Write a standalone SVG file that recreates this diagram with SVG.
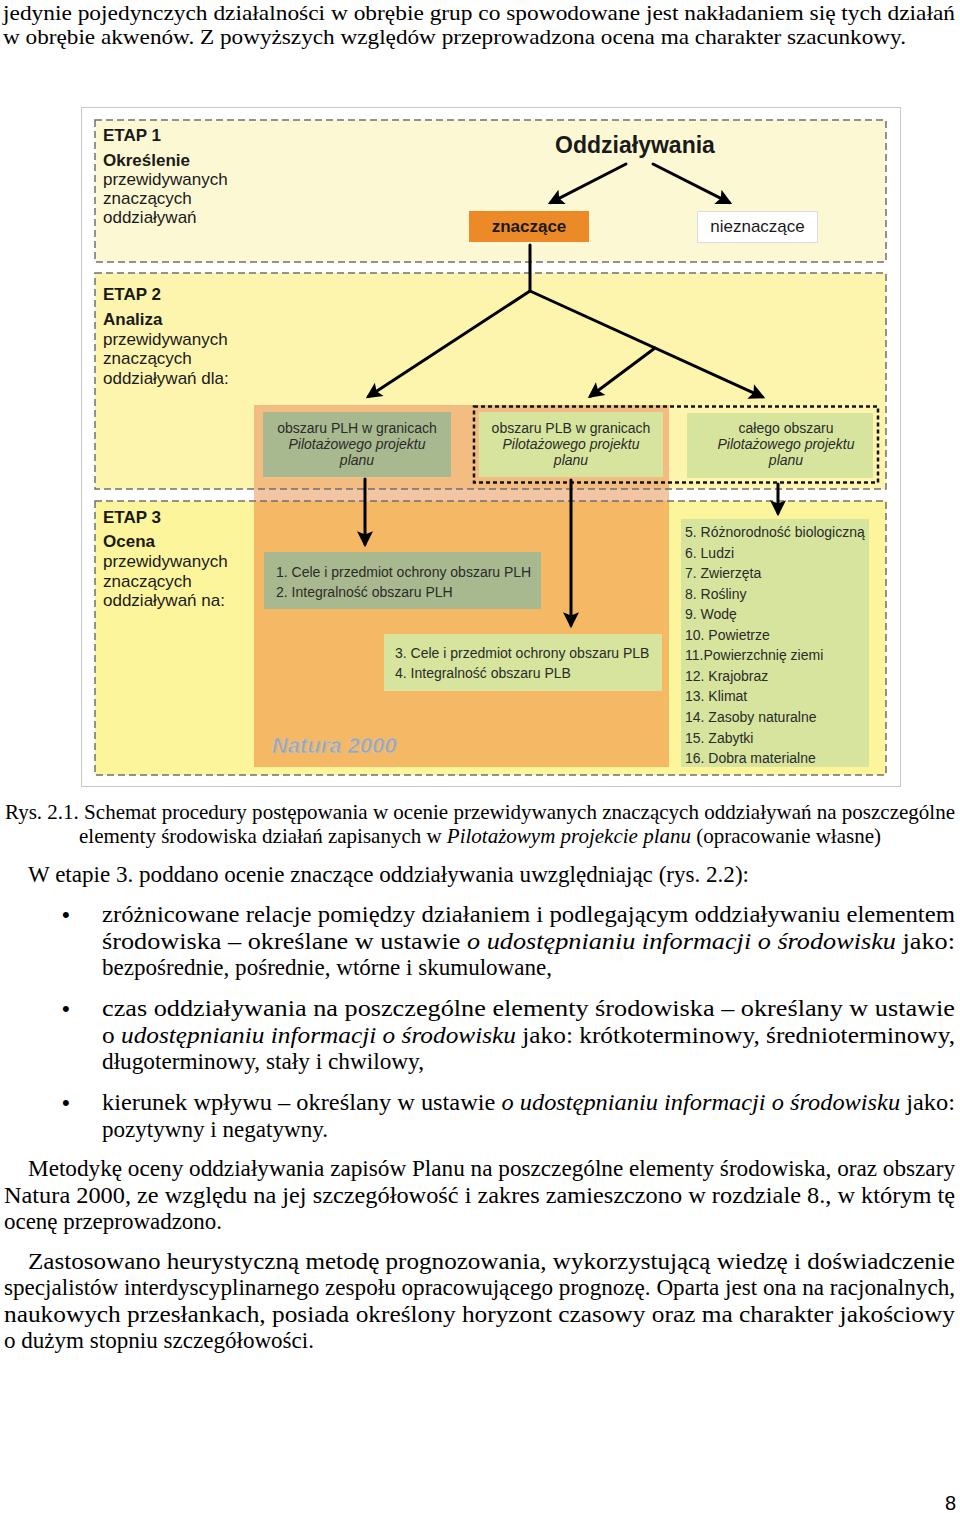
<svg xmlns="http://www.w3.org/2000/svg" width="960" height="1513" viewBox="0 0 960 1513">
<defs>
<marker id="ah" viewBox="0 0 10 10" refX="8" refY="5" markerWidth="18" markerHeight="16" markerUnits="userSpaceOnUse" orient="auto">
<path d="M0,0 L10,5 L0,10 L2,5 z" fill="#000"/>
</marker>
<style>
.body{font-family:"Liberation Serif","Times New Roman",serif;font-size:23px;fill:#000}
.top{font-size:22px}
.cap{font-size:21px}
.it{font-style:italic}
.bul{font-family:"Liberation Sans",Arial,sans-serif;font-size:22px;fill:#000}
.lbl{font-family:"Liberation Sans",Arial,sans-serif;font-size:17px;fill:#1a1a1a}
.b{font-weight:bold}
.title{font-size:23px}
.gt{font-family:"Liberation Sans",Arial,sans-serif;font-size:14px;fill:#2b2b2b}
.dash{fill:none;stroke:#707070;stroke-width:1.5;stroke-dasharray:7 4}
.conn{stroke:#000;stroke-width:3;fill:none;stroke-linecap:round}
.arr{marker-end:url(#ah)}
.gg{fill:#a9b98f}
.lg{fill:#d6e49d}
</style>
</defs>
<rect width="960" height="1513" fill="#fff"/>

<g id="text-top">
<text class="body top" x="3" y="19.6" textLength="952" lengthAdjust="spacingAndGlyphs">jedynie pojedynczych działalności w obrębie grup co spowodowane jest nakładaniem się tych działań</text>
<text class="body top" x="3" y="44" textLength="903" lengthAdjust="spacingAndGlyphs">w obrębie akwenów. Z powyższych względów przeprowadzona ocena ma charakter szacunkowy.</text>
</g>

<g id="frame">
<rect x="81.5" y="107.5" width="819" height="679" fill="#fff" stroke="#c8c8c8" stroke-width="1"/>
</g>

<g id="etap1">
<rect x="95" y="120" width="791" height="142" fill="#fdf8d4"/>
</g>
<g id="etap2">
<rect x="95" y="273" width="791" height="216" fill="#fdf5ad"/>
</g>
<g id="etap3">
<rect x="95" y="501" width="791" height="274" fill="#fdf59b"/>
</g>

<g id="natura2000">
<rect x="254" y="405" width="415" height="84" fill="#f3bd82"/>
<rect x="254" y="489" width="415" height="12" fill="#f2c6a4"/>
<rect x="254" y="501" width="415" height="266" fill="#f5b865"/>
<text x="272" y="753" font-family="Liberation Sans, Arial, sans-serif" font-size="22" font-weight="bold" font-style="italic" fill="#a3a3a3" stroke="#c9c9c9" stroke-width="0.6">Natura 2000</text>
</g>

<g id="etap-borders">
<rect class="dash" x="95" y="120" width="791" height="142"/>
<rect class="dash" x="95" y="273" width="791" height="216"/>
<rect class="dash" x="95" y="501" width="791" height="274"/>
</g>

<g id="etap1-label">
<text class="lbl b" x="103" y="141">ETAP 1</text>
<text class="lbl b" x="103" y="166">Określenie</text>
<text class="lbl" x="103" y="185">przewidywanych</text>
<text class="lbl" x="103" y="204">znaczących</text>
<text class="lbl" x="103" y="223">oddziaływań</text>
</g>
<g id="etap2-label">
<text class="lbl b" x="103" y="300">ETAP 2</text>
<text class="lbl b" x="103" y="325">Analiza</text>
<text class="lbl" x="103" y="345">przewidywanych</text>
<text class="lbl" x="103" y="364">znaczących</text>
<text class="lbl" x="103" y="384">oddziaływań dla:</text>
</g>
<g id="etap3-label">
<text class="lbl b" x="103" y="523">ETAP 3</text>
<text class="lbl b" x="103" y="547">Ocena</text>
<text class="lbl" x="103" y="567">przewidywanych</text>
<text class="lbl" x="103" y="587">znaczących</text>
<text class="lbl" x="103" y="606">oddziaływań na:</text>
</g>

<g id="oddzialywania">
<text class="lbl b title" x="635" y="153" text-anchor="middle">Oddziaływania</text>
</g>
<g id="znaczace">
<rect x="469" y="211" width="120" height="31" fill="#ec8a27"/>
<text class="lbl b" x="529" y="232" text-anchor="middle" fill="#3a2a12">znaczące</text>
</g>
<g id="nieznaczace">
<rect x="697.5" y="211.5" width="120" height="31" fill="#fff" stroke="#dcdcdc"/>
<text class="lbl" x="757.5" y="232" text-anchor="middle">nieznaczące</text>
</g>

<g id="obszar-plh">
<rect class="gg" x="263" y="412" width="188" height="65"/>
<text class="gt" text-anchor="middle"><tspan x="357" y="433">obszaru PLH w granicach</tspan><tspan class="it" x="357" y="449">Pilotażowego projektu</tspan><tspan class="it" x="357" y="465">planu</tspan></text>
</g>
<g id="obszar-plb">
<rect class="lg" x="479" y="412" width="184" height="65"/>
<text class="gt" text-anchor="middle"><tspan x="571" y="433">obszaru PLB w granicach</tspan><tspan class="it" x="571" y="449">Pilotażowego projektu</tspan><tspan class="it" x="571" y="465">planu</tspan></text>
</g>
<g id="caly-obszar">
<rect class="lg" x="687" y="413" width="186" height="65"/>
<text class="gt" text-anchor="middle"><tspan x="786" y="433">całego obszaru</tspan><tspan class="it" x="786" y="449">Pilotażowego projektu</tspan><tspan class="it" x="786" y="465">planu</tspan></text>
</g>
<g id="obszar-group">
<rect x="474" y="406.5" width="404" height="76" fill="none" stroke="#111" stroke-width="2.5" stroke-dasharray="4 3"/>
</g>

<g id="plh-items">
<rect class="gg" x="264" y="552" width="277" height="57"/>
<text class="gt"><tspan x="276" y="577">1. Cele i przedmiot ochrony obszaru PLH</tspan><tspan x="276" y="597">2. Integralność obszaru PLH</tspan></text>
</g>
<g id="plb-items">
<rect class="lg" x="384" y="634" width="278" height="57"/>
<text class="gt"><tspan x="395" y="658">3. Cele i przedmiot ochrony obszaru PLB</tspan><tspan x="395" y="678">4. Integralność obszaru PLB</tspan></text>
</g>
<g id="elementy">
<rect class="lg" x="681" y="519" width="188" height="248"/>
<text class="gt">
<tspan x="685" y="537">5. Różnorodność biologiczną</tspan>
<tspan x="685" y="557.5">6. Ludzi</tspan>
<tspan x="685" y="578">7. Zwierzęta</tspan>
<tspan x="685" y="598.6">8. Rośliny</tspan>
<tspan x="685" y="619.2">9. Wodę</tspan>
<tspan x="685" y="639.7">10. Powietrze</tspan>
<tspan x="685" y="660.3">11.Powierzchnię ziemi</tspan>
<tspan x="685" y="680.8">12. Krajobraz</tspan>
<tspan x="685" y="701.4">13. Klimat</tspan>
<tspan x="685" y="722">14. Zasoby naturalne</tspan>
<tspan x="685" y="742.5">15. Zabytki</tspan>
<tspan x="685" y="763">16. Dobra materialne</tspan>
</text>
</g>

<g id="connectors">
<line class="conn arr" x1="626" y1="164" x2="550.7" y2="202.6"/>
<line class="conn arr" x1="653" y1="164" x2="729.3" y2="202.6"/>
<polyline class="conn" points="530,245 530,291"/>
<line class="conn arr" x1="530" y1="291" x2="368.5" y2="396.4"/>
<line class="conn arr" x1="530" y1="291" x2="762.3" y2="396.8"/>
<line class="conn arr" x1="655" y1="348" x2="590.4" y2="396.2"/>
<line class="conn arr" x1="365" y1="479" x2="365" y2="544"/>
<line class="conn arr" x1="571" y1="480" x2="571" y2="625"/>
<line class="conn arr" x1="778" y1="484" x2="778" y2="513"/>
</g>

<g id="caption">
<text class="body cap" x="5" y="819" textLength="950" lengthAdjust="spacingAndGlyphs">Rys. 2.1. Schemat procedury postępowania w ocenie przewidywanych znaczących oddziaływań na poszczególne</text>
<text class="body cap" x="79" y="843" textLength="802" lengthAdjust="spacingAndGlyphs">elementy środowiska działań zapisanych w <tspan class="it">Pilotażowym projekcie planu</tspan> (opracowanie własne)</text>
</g>

<g id="text-body">
<text class="body" x="28" y="882" textLength="721" lengthAdjust="spacingAndGlyphs">W etapie 3. poddano ocenie znaczące oddziaływania uwzględniając (rys. 2.2):</text>
<text class="bul" x="62" y="922">•</text>
<text class="body" x="102" y="922" textLength="853" lengthAdjust="spacingAndGlyphs">zróżnicowane relacje pomiędzy działaniem i podlegającym oddziaływaniu elementem</text>
<text class="body" x="102" y="949" textLength="853" lengthAdjust="spacingAndGlyphs">środowiska – określane w ustawie <tspan class="it">o udostępnianiu informacji o środowisku</tspan> jako:</text>
<text class="body" x="102" y="975" textLength="450" lengthAdjust="spacingAndGlyphs">bezpośrednie, pośrednie, wtórne i skumulowane,</text>
<text class="bul" x="62" y="1016">•</text>
<text class="body" x="102" y="1016" textLength="853" lengthAdjust="spacingAndGlyphs">czas oddziaływania na poszczególne elementy środowiska – określany w ustawie</text>
<text class="body" x="102" y="1043" textLength="853" lengthAdjust="spacingAndGlyphs">o <tspan class="it">udostępnianiu informacji o środowisku</tspan> jako: krótkoterminowy, średnioterminowy,</text>
<text class="body" x="102" y="1069" textLength="322" lengthAdjust="spacingAndGlyphs">długoterminowy, stały i chwilowy,</text>
<text class="bul" x="62" y="1110">•</text>
<text class="body" x="102" y="1110" textLength="853" lengthAdjust="spacingAndGlyphs">kierunek wpływu – określany w ustawie <tspan class="it">o udostępnianiu informacji o środowisku</tspan> jako:</text>
<text class="body" x="102" y="1137" textLength="226" lengthAdjust="spacingAndGlyphs">pozytywny i negatywny.</text>
<text class="body" x="28" y="1176" textLength="927" lengthAdjust="spacingAndGlyphs">Metodykę oceny oddziaływania zapisów Planu na poszczególne elementy środowiska, oraz obszary</text>
<text class="body" x="4" y="1203" textLength="951" lengthAdjust="spacingAndGlyphs">Natura 2000, ze względu na jej szczegółowość i zakres zamieszczono w rozdziale 8., w którym tę</text>
<text class="body" x="4" y="1229" textLength="218" lengthAdjust="spacingAndGlyphs">ocenę przeprowadzono.</text>
<text class="body" x="28" y="1269" textLength="927" lengthAdjust="spacingAndGlyphs">Zastosowano heurystyczną metodę prognozowania, wykorzystującą wiedzę i doświadczenie</text>
<text class="body" x="4" y="1295" textLength="951" lengthAdjust="spacingAndGlyphs">specjalistów interdyscyplinarnego zespołu opracowującego prognozę. Oparta jest ona na racjonalnych,</text>
<text class="body" x="4" y="1322" textLength="951" lengthAdjust="spacingAndGlyphs">naukowych przesłankach, posiada określony horyzont czasowy oraz ma charakter jakościowy</text>
<text class="body" x="4" y="1348" textLength="310" lengthAdjust="spacingAndGlyphs">o dużym stopniu szczegółowości.</text>
</g>

<g id="page-number">
<text x="956" y="1510" font-family="Liberation Sans, Arial, sans-serif" font-size="20" text-anchor="end" fill="#000">8</text>
</g>
</svg>
